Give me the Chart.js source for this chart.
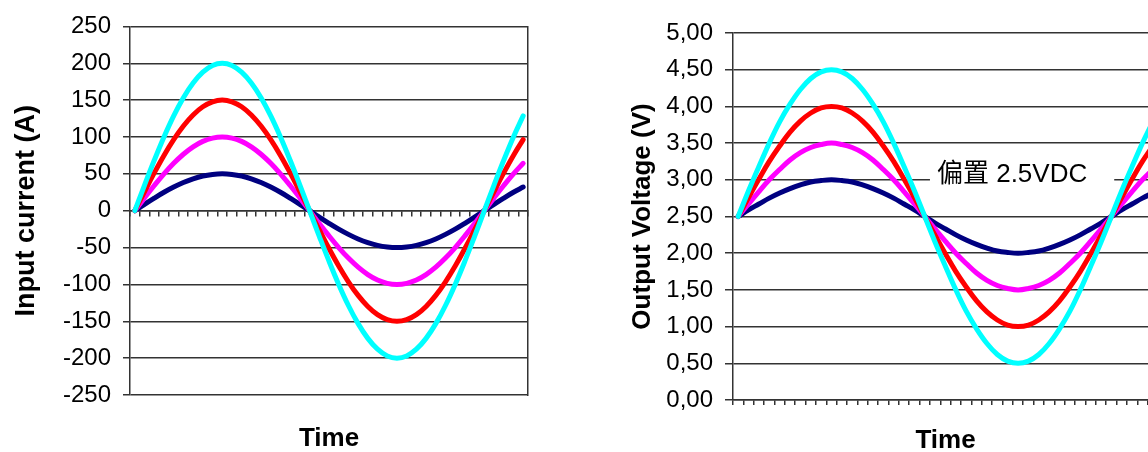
<!DOCTYPE html>
<html><head><meta charset="utf-8">
<script src="https://cdn.jsdelivr.net/npm/chart.js@4.4.0/dist/chart.umd.min.js"></script>
<style>
html,body{margin:0;padding:0;background:#fff;overflow:hidden;width:1148px;height:452px;}
#wrap{position:relative;width:1148px;height:452px;overflow:hidden;background:#fff;}
#c1{position:absolute;left:0;top:0;}
#c2{position:absolute;left:600px;top:0;}
</style></head><body>
<div id="wrap">
<canvas id="c1" width="560" height="452"></canvas>
<canvas id="c2" width="600" height="452"></canvas>
</div>
<script>
// ---------- categories ----------
const timeSteps = [0,1,2,3,4,5,6,7,8,9,10,11,12,13,14,15,16,17,18,19,20,21,22,23,24,25,26,27,28,29,30,31,32,33,34,35,36,37,38,39,40];

// ---------- left chart: input current (A) ----------
const current50  = [0,8.7,17.1,25,32.1,38.3,43.3,47,49.2,50,49.2,47,43.3,38.3,32.1,25,17.1,8.7,0,-8.7,-17.1,-25,-32.1,-38.3,-43.3,-47,-49.2,-50,-49.2,-47,-43.3,-38.3,-32.1,-25,-17.1,-8.7,0,8.7,17.1,25,32.1];
const current100 = [0,17.4,34.2,50,64.3,76.6,86.6,94,98.5,100,98.5,94,86.6,76.6,64.3,50,34.2,17.4,0,-17.4,-34.2,-50,-64.3,-76.6,-86.6,-94,-98.5,-100,-98.5,-94,-86.6,-76.6,-64.3,-50,-34.2,-17.4,0,17.4,34.2,50,64.3];
const current150 = [0,26,51.3,75,96.4,114.9,129.9,141,147.7,150,147.7,141,129.9,114.9,96.4,75,51.3,26,0,-26,-51.3,-75,-96.4,-114.9,-129.9,-141,-147.7,-150,-147.7,-141,-129.9,-114.9,-96.4,-75,-51.3,-26,0,26,51.3,75,96.4];
const current200 = [0,34.7,68.4,100,128.6,153.2,173.2,187.9,197,200,197,187.9,173.2,153.2,128.6,100,68.4,34.7,0,-34.7,-68.4,-100,-128.6,-153.2,-173.2,-187.9,-197,-200,-197,-187.9,-173.2,-153.2,-128.6,-100,-68.4,-34.7,0,34.7,68.4,100,128.6];
const currentTickLabels = ['-250','-200','-150','-100','-50','0','50','100','150','200','250'];

// ---------- right chart: output voltage (V) ----------
const volt050 = [2.5,2.59,2.67,2.75,2.82,2.88,2.93,2.97,2.99,3.0,2.99,2.97,2.93,2.88,2.82,2.75,2.67,2.59,2.5,2.41,2.33,2.25,2.18,2.12,2.07,2.03,2.01,2.0,2.01,2.03,2.07,2.12,2.18,2.25,2.33,2.41,2.5,2.59,2.67,2.75,2.82];
const volt100 = [2.5,2.67,2.84,3.0,3.14,3.27,3.37,3.44,3.48,3.5,3.48,3.44,3.37,3.27,3.14,3.0,2.84,2.67,2.5,2.33,2.16,2.0,1.86,1.73,1.63,1.56,1.52,1.5,1.52,1.56,1.63,1.73,1.86,2.0,2.16,2.33,2.5,2.67,2.84,3.0,3.14];
const volt150 = [2.5,2.76,3.01,3.25,3.46,3.65,3.8,3.91,3.98,4.0,3.98,3.91,3.8,3.65,3.46,3.25,3.01,2.76,2.5,2.24,1.99,1.75,1.54,1.35,1.2,1.09,1.02,1.0,1.02,1.09,1.2,1.35,1.54,1.75,1.99,2.24,2.5,2.76,3.01,3.25,3.46];
const volt200 = [2.5,2.85,3.18,3.5,3.79,4.03,4.23,4.38,4.47,4.5,4.47,4.38,4.23,4.03,3.79,3.5,3.18,2.85,2.5,2.15,1.82,1.5,1.21,0.97,0.77,0.62,0.53,0.5,0.53,0.62,0.77,0.97,1.21,1.5,1.82,2.15,2.5,2.85,3.18,3.5,3.79];
const voltTickLabels = ['0,00','0,50','1,00','1,50','2,00','2,50','3,00','3,50','4,00','4,50','5,00'];

// annotation on right chart
const biasText = '偏置 2.5VDC';
const biasAt = { x: 18.5, y: 3.0 };

// ---------- styles ----------
const seriesColors = ['#00FFFF', '#FF0000', '#FF00FF', '#000080']; // drawn top -> bottom
const gridColor = '#333333';
const FONT = "'Liberation Sans', Arial, sans-serif";
Chart.defaults.font.family = FONT;
Chart.defaults.color = '#000';

function lineSet(data, color) {
  return { data, borderColor: color, backgroundColor: color, borderWidth: 5, pointRadius: 0,
           tension: 0.4, fill: false, borderCapStyle: 'round', borderJoinStyle: 'round' };
}

// ---------- left chart ----------
new Chart(document.getElementById('c1'), {
  type: 'line',
  data: {
    labels: timeSteps,
    datasets: [
      lineSet(current200, seriesColors[0]),
      lineSet(current150, seriesColors[1]),
      lineSet(current100, seriesColors[2]),
      lineSet(current50,  seriesColors[3])
    ]
  },
  options: {
    responsive: false, animation: false, devicePixelRatio: 1,
    layout: { padding: { top: 25, right: 32, left: 0, bottom: 0 } },
    plugins: {
      legend: { display: false }, tooltip: { enabled: false },
      title: { display: true, text: 'Time', position: 'bottom', fullSize: false, color: '#000',
               font: { size: 26, weight: 'bold', lineHeight: 1 }, padding: { top: 31, bottom: 0 } }
    },
    scales: {
      x: { type: 'category', position: { y: 0 }, offset: true,
           grid: { offset: true, drawOnChartArea: false, drawTicks: true, tickLength: 5, color: gridColor, lineWidth: 1.5 },
           border: { display: true, color: gridColor, width: 1.5 },
           ticks: { display: false, autoSkip: false } },
      y: { min: -250, max: 250,
           ticks: { stepSize: 50, font: { size: 24 }, padding: 12, color: '#000',
                    callback: (v, i) => currentTickLabels[i] },
           grid: { color: gridColor, lineWidth: 1.5, tickLength: 7 },
           border: { display: true, color: gridColor, width: 1.5 },
           title: { display: true, text: 'Input current (A)', color: '#000',
                    font: { size: 27, weight: 'bold' }, padding: { top: 10, bottom: 0 } },
           afterFit: s => { s.width = 130; } },
      yR: { position: 'right', min: -250, max: 250, display: true,
            ticks: { display: false }, grid: { drawOnChartArea: false, drawTicks: false },
            border: { display: true, color: gridColor, width: 1.5 },
            afterFit: s => { s.width = 0; } }
    }
  }
});

// ---------- right chart ----------
const biasPlugin = {
  id: 'biasLabel',
  beforeDatasetsDraw(chart) {
    const { ctx, scales: { x, y } } = chart;
    const x0 = x.getPixelForValue(biasAt.x);
    const yp = y.getPixelForValue(biasAt.y);
    ctx.save();
    ctx.font = "26px 'Liberation Sans', 'Noto Sans CJK SC', sans-serif";
    const w = ctx.measureText(biasText).width;
    ctx.fillStyle = '#fff';
    ctx.fillRect(x0, yp - 4, 7 + w + 27, 8);
    ctx.fillStyle = '#000';
    ctx.textBaseline = 'middle';
    ctx.textAlign = 'left';
    ctx.fillText(biasText, x0 + 7, yp - 5);
    ctx.restore();
  }
};

new Chart(document.getElementById('c2'), {
  type: 'line',
  data: {
    labels: timeSteps,
    datasets: [
      lineSet(volt200, seriesColors[0]),
      lineSet(volt150, seriesColors[1]),
      lineSet(volt100, seriesColors[2]),
      lineSet(volt050, seriesColors[3])
    ]
  },
  plugins: [biasPlugin],
  options: {
    responsive: false, animation: false, devicePixelRatio: 1,
    layout: { padding: { top: 33, right: 42, left: 0, bottom: 0 } },
    plugins: { legend: { display: false }, tooltip: { enabled: false } },
    scales: {
      x: { type: 'category', offset: true,
           grid: { offset: true, drawOnChartArea: false, drawTicks: true, tickLength: 5, color: gridColor, lineWidth: 1.5 },
           border: { display: true, color: gridColor, width: 1.5 },
           ticks: { display: false, autoSkip: false },
           title: { display: true, text: 'Time', color: '#000',
                    font: { size: 26, weight: 'bold', lineHeight: 0.85 }, padding: { top: 0, bottom: 0 } },
           afterFit: s => { s.height = 52; } },
      y: { min: 0, max: 5,
           ticks: { stepSize: 0.5, font: { size: 24 }, padding: 12, color: '#000',
                    callback: (v, i) => voltTickLabels[i] },
           grid: { color: gridColor, lineWidth: 1.5, tickLength: 8 },
           border: { display: true, color: gridColor, width: 1.5 },
           title: { display: true, text: 'Output Voltage (V)', color: '#000',
                    font: { size: 26, weight: 'bold' }, padding: { top: 27, bottom: 0 } },
           afterFit: s => { s.width = 133; } }
    }
  }
});
</script>
</body></html>
